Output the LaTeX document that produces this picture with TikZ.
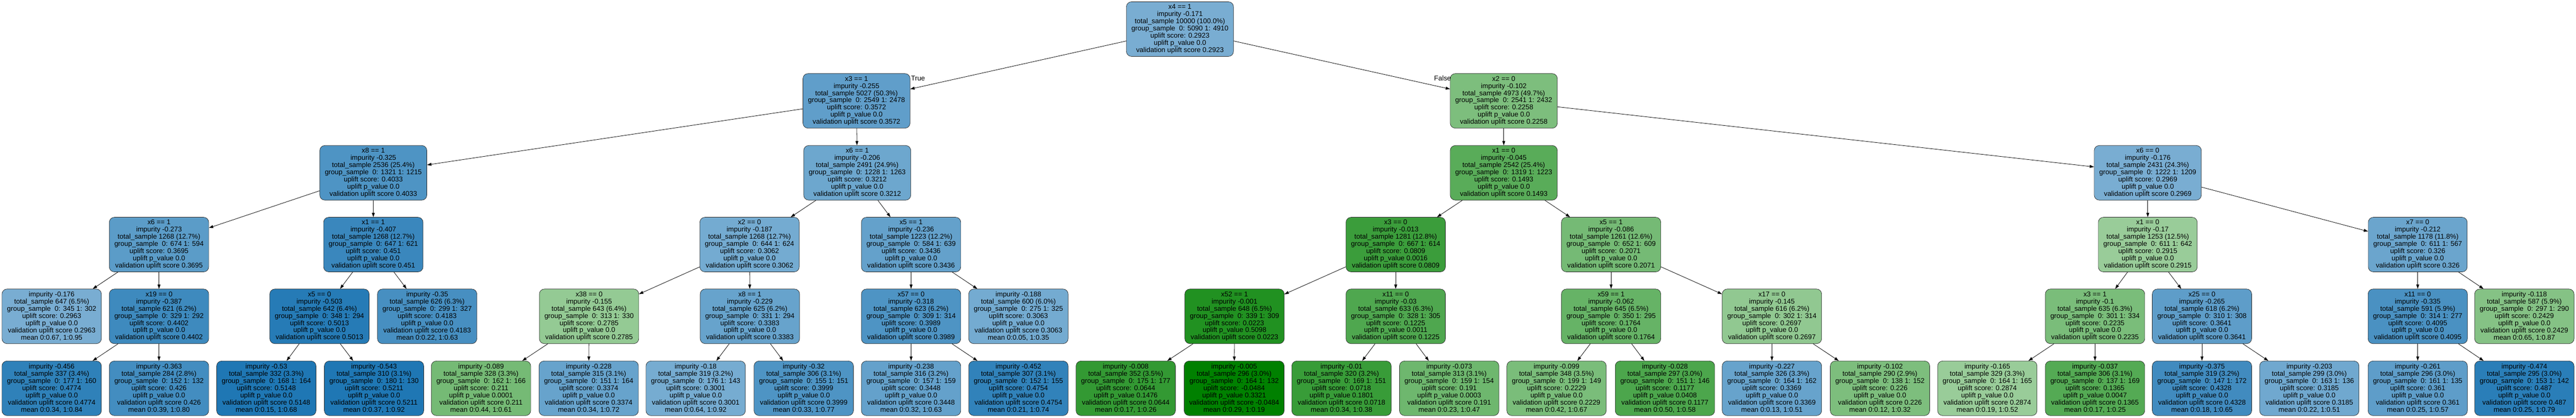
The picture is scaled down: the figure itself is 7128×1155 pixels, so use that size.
\documentclass[tikz,border=0pt]{standalone}
\usepackage{fontspec}
\setmainfont{Liberation Sans}
\usetikzlibrary{arrows.meta,calc}

\definecolor{upblue}{HTML}{1F77B4}
\definecolor{upgreen}{HTML}{008000}
\newcommand\treefont{\fontsize{13.6pt}{14.15pt}\selectfont}

\tikzset{
  unode/.style={draw=black!85, line width=0.7pt, rounded corners=0.35cm, align=center,
    inner xsep=0.35cm, inner ysep=0.1cm, minimum height=3.775cm, font=\treefont},
  uplift/.code={%
    \pgfmathtruncatemacro\isblue{#1>0.292}%
    \ifnum\isblue=1
      \pgfmathtruncatemacro\upa{min(100,60+180*(#1-0.2923))}%
      \colorlet{nodefill}{upblue!\upa!white}%
    \else
      \pgfmathtruncatemacro\upa{min(100,100-176.5*(#1+0.0484))}%
      \colorlet{nodefill}{upgreen!\upa!white}%
    \fi
    \pgfkeysalso{fill=nodefill}},
  link/.style={line width=0.8pt, -{Triangle[length=0.3cm,width=0.2cm]}},
  branch/.style={inner sep=0pt, font=\treefont}
}

\begin{document}
\begin{tikzpicture}[x=0.025cm, y=-0.025cm]
		\fill[white] (0,0) rectangle (7128,1155);
		\useasboundingbox (0,0) rectangle (7128,1155);
		% split nodes
		\foreach \n/\x/\y/\cond/\imp/\tot/\pct/\ga/\gb/\sc/\pv in {
			T/3265/80.5/x4 == 1/0.171/10000/100.0/5090/4910/0.2923/0.0,
			TL/2370/279/x3 == 1/0.255/5027/50.3/2549/2478/0.3572/0.0,
			TR/4161/279/x2 == 0/0.102/4973/49.7/2541/2432/0.2258/0.0,
			TLL/1033/478/x8 == 1/0.325/2536/25.4/1321/1215/0.4033/0.0,
			TLR/2372/478/x6 == 1/0.206/2491/24.9/1228/1263/0.3212/0.0,
			TRL/4161/478/x1 == 0/0.045/2542/25.4/1319/1223/0.1493/0.0,
			TRR/5943/478/x6 == 0/0.176/2431/24.3/1222/1209/0.2969/0.0,
			TLLL/440/676.5/x6 == 1/0.273/1268/12.7/674/594/0.3695/0.0,
			TLLR/1033/676.5/x1 == 1/0.407/1268/12.7/647/621/0.451/0.0,
			TLRL/2074/676.5/x2 == 0/0.187/1268/12.7/644/624/0.3062/0.0,
			TLRR/2521/676.5/x5 == 1/0.236/1223/12.2/584/639/0.3436/0.0,
			TRLL/3862/676.5/x3 == 0/0.013/1281/12.8/667/614/0.0809/0.0016,
			TRLR/4458/676.5/x5 == 1/0.086/1261/12.6/652/609/0.2071/0.0,
			TRRL/5943/676.5/x1 == 0/0.17/1253/12.5/611/642/0.2915/0.0,
			TRRR/6690/676.5/x7 == 0/0.212/1178/11.8/611/567/0.326/0.0,
			TLLLR/440/875/x19 == 0/0.387/621/6.2/329/292/0.4402/0.0,
			TLLRL/884/875/x5 == 0/0.503/642/6.4/348/294/0.5013/0.0,
			TLRLL/1630/875/x38 == 0/0.155/643/6.4/313/330/0.2785/0.0,
			TLRLR/2075/875/x8 == 1/0.229/625/6.2/331/294/0.3383/0.0,
			TLRRL/2521/875/x57 == 0/0.318/623/6.2/309/314/0.3989/0.0,
			TRLLL/3416/875/x52 == 1/0.001/648/6.5/339/309/0.0223/0.5098,
			TRLLR/3862/875/x11 == 0/0.03/633/6.3/328/305/0.1225/0.0011,
			TRLRL/4458/875/x59 == 1/0.062/645/6.5/350/295/0.1764/0.0,
			TRLRR/4903/875/x17 == 0/0.145/616/6.2/302/314/0.2697/0.0,
			TRRLL/5797/875/x3 == 1/0.1/635/6.3/301/334/0.2235/0.0,
			TRRLR/6093/875/x25 == 0/0.265/618/6.2/310/308/0.3641/0.0,
			TRRRL/6690/875/x11 == 0/0.335/591/5.9/314/277/0.4095/0.0}
		{ \node[unode, uplift=\sc] (\n) at (\x,\y) {\cond\\impurity -\imp\\total\_sample \tot{} (\pct\%)\\group\_sample\ \ 0: \ga{} 1: \gb\\uplift score: \sc\\uplift p\_value \pv\\validation uplift score \sc}; }
		% leaves
		\foreach \n/\x/\y/\imp/\tot/\pct/\ga/\gb/\sc/\pv/\ma/\mb in {
			TLLLL/143/875/0.176/647/6.5/345/302/0.2963/0.0/0.67/0.95,
			TLLRR/1182/875/0.35/626/6.3/299/327/0.4183/0.0/0.22/0.63,
			TLRRR/2818/875/0.188/600/6.0/275/325/0.3063/0.0/0.05/0.35,
			TRRRR/6985/875/0.118/587/5.9/297/290/0.2429/0.0/0.65/0.87,
			TLLLRL/143/1074/0.456/337/3.4/177/160/0.4774/0.0/0.34/0.84,
			TLLLRR/440/1074/0.363/284/2.8/152/132/0.426/0.0/0.39/0.80,
			TLLRLL/737/1074/0.53/332/3.3/168/164/0.5148/0.0/0.15/0.68,
			TLLRLR/1035/1074/0.543/310/3.1/180/130/0.5211/0.0/0.37/0.92,
			TLRLLL/1331/1074/0.089/328/3.3/162/166/0.211/0.0001/0.44/0.61,
			TLRLLR/1629/1074/0.228/315/3.1/151/164/0.3374/0.0/0.34/0.72,
			TLRLRL/1925/1074/0.18/319/3.2/176/143/0.3001/0.0/0.64/0.92,
			TLRLRR/2224/1074/0.32/306/3.1/155/151/0.3999/0.0/0.33/0.77,
			TLRRLL/2521/1074/0.238/316/3.2/157/159/0.3448/0.0/0.32/0.63,
			TLRRLR/2818/1074/0.452/307/3.1/152/155/0.4754/0.0/0.21/0.74,
			TRLLLL/3115/1074/0.008/352/3.5/175/177/0.0644/0.1476/0.17/0.26,
			TRLLLR/3415/1074/0.005/296/3.0/164/132/-0.0484/0.3321/0.29/0.19,
			TRLLRL/3712/1074/0.01/320/3.2/169/151/0.0718/0.1801/0.34/0.38,
			TRLLRR/4010/1074/0.073/313/3.1/159/154/0.191/0.0003/0.23/0.47,
			TRLRLL/4307/1074/0.099/348/3.5/199/149/0.2229/0.0/0.42/0.67,
			TRLRLR/4607/1074/0.028/297/3.0/151/146/0.1177/0.0408/0.50/0.58,
			TRLRRL/4903/1074/0.227/326/3.3/164/162/0.3369/0.0/0.13/0.51,
			TRLRRR/5202/1074/0.102/290/2.9/138/152/0.226/0.0/0.12/0.32,
			TRRLLL/5499/1074/0.165/329/3.3/164/165/0.2874/0.0/0.19/0.52,
			TRRLLR/5797/1074/0.037/306/3.1/137/169/0.1365/0.0047/0.17/0.25,
			TRRLRL/6093/1074/0.375/319/3.2/147/172/0.4328/0.0/0.18/0.65,
			TRRLRR/6390/1074/0.203/299/3.0/163/136/0.3185/0.0/0.22/0.51,
			TRRRLL/6690/1074/0.261/296/3.0/161/135/0.361/0.0/0.25/0.57,
			TRRRLR/6985/1074/0.474/295/3.0/153/142/0.487/0.0/0.25/0.79}
		{ \node[unode, uplift=\sc] (\n) at (\x,\y) {impurity -\imp\\total\_sample \tot{} (\pct\%)\\group\_sample\ \ 0: \ga{} 1: \gb\\uplift score: \sc\\uplift p\_value \pv\\validation uplift score \sc\\mean 0:\ma, 1:\mb}; }
		% edges, each split node to its two children
		\foreach \p in {T,TL,TR,TLL,TLR,TRL,TRR,TLLL,TLLR,TLRL,TLRR,TRLL,TRLR,TRRL,TRRR,
			TLLLR,TLLRL,TLRLL,TLRLR,TLRRL,TRLLL,TRLLR,TRLRL,TRLRR,TRRLL,TRRLR,TRRRL}
		{ \draw[link] (\p) -- (\p L); \draw[link] (\p) -- (\p R); }
		\node[branch, anchor=west] (truelab) at ($(TL.north east)+(2,13)$) {True};
		\node[branch, anchor=east] (falselab) at ($(TR.north west)+(3,13)$) {False};
	\end{tikzpicture}
\end{document}
